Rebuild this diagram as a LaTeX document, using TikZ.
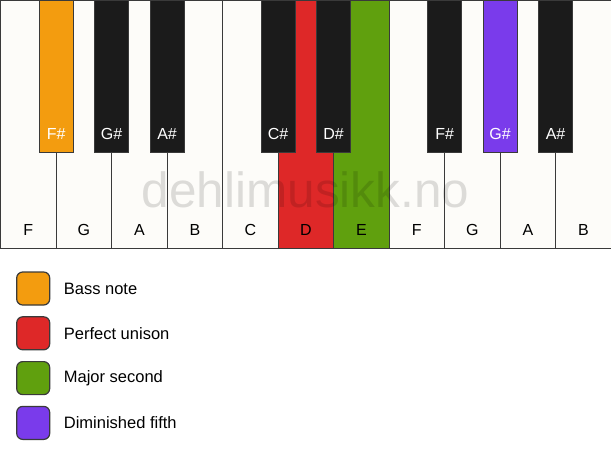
\documentclass[tikz,border=0pt]{standalone}
\usepackage{fontspec}
\setmainfont{Liberation Sans}
\usetikzlibrary{positioning}
\definecolor{ivory}{HTML}{FDFCF9}
\definecolor{keyline}{HTML}{3A3A3A}
\definecolor{ebony}{HTML}{1B1B1B}
\definecolor{bassorange}{HTML}{F39C0F}
\definecolor{unisonred}{HTML}{DE2828}
\definecolor{secondgreen}{HTML}{60A00E}
\definecolor{fifthpurple}{HTML}{7A3BEB}

\begin{document}
\begin{tikzpicture}[x=1pt, y=-1pt,
        whitekey/.style={
            rectangle,
            draw=keyline,
            line width=1.2pt,
            fill=ivory,
            minimum width=55.5pt,
            minimum height=248pt,
            inner sep=0pt,
            outer sep=0pt,
            label={[keyname, anchor=base, yshift=13.6pt]south:#1}
        },
        blackkey/.style={
            rectangle,
            draw=keyline,
            line width=1.2pt,
            fill=ebony,
            minimum width=34pt,
            minimum height=152pt,
            inner sep=0pt,
            outer sep=0pt,
            anchor=north,
            label={[keyname, text=white, anchor=base, yshift=13.6pt]south:#1}
        },
        keyname/.style={
            inner sep=0pt,
            font=\fontsize{16}{19}\selectfont
        },
        swatch/.style={
            rectangle,
            rounded corners=6pt,
            draw=keyline,
            line width=1.2pt,
            minimum width=33pt,
            minimum height=33pt,
            inner sep=0pt,
            outer sep=0pt
        },
        legendtext/.style={
            inner sep=0pt,
            anchor=west,
            font=\fontsize{16.5}{20}\selectfont
        }
    ]
        \useasboundingbox (0,0) rectangle (611,461);

        % white keys
        \node (1) [whitekey=F, anchor=north west] at (0.6,0.6) {};
        \node (2) [whitekey=G, right=0pt of 1] {};
        \node (3) [whitekey=A, right=0pt of 2] {};
        \node (4) [whitekey=B, right=0pt of 3] {};
        \node (5) [whitekey=C, right=0pt of 4] {};
        \node (6) [whitekey=D, fill=unisonred, right=0pt of 5] {};
        \node (7) [whitekey=E, fill=secondgreen, right=0pt of 6] {};
        \node (8) [whitekey=F, right=0pt of 7] {};
        \node (9) [whitekey=G, right=0pt of 8] {};
        \node (10) [whitekey=A, right=0pt of 9] {};
        \node (11) [whitekey=B, right=0pt of 10] {};

        % watermark
        \node (mark) [
            text=black,
            text opacity=0.13,
            font=\fontsize{49.5}{56}\selectfont
        ] at (305.5,189.5) {dehlimusikk.no};

        % black keys
        \node (12) [blackkey=F\#, fill=bassorange] at (1.north east) {};
        \node (23) [blackkey=G\#] at (2.north east) {};
        \node (34) [blackkey=A\#] at (3.north east) {};
        \node (56) [blackkey=C\#] at (5.north east) {};
        \node (67) [blackkey=D\#] at (6.north east) {};
        \node (89) [blackkey=F\#] at (8.north east) {};
        \node (910) [blackkey=G\#, fill=fifthpurple] at (9.north east) {};
        \node (1011) [blackkey=A\#] at (10.north east) {};

        % legend
        \node (b) [swatch, fill=bassorange, anchor=north west] at (16.7,272) {};
        \node (u) [swatch, fill=unisonred, below=11.8pt of b] {};
        \node (s) [swatch, fill=secondgreen, below=11.8pt of u] {};
        \node (d) [swatch, fill=fifthpurple, below=11.8pt of s] {};

        \node (bt) [legendtext, right=14pt of b] {Bass note};
        \node (ut) [legendtext, right=14pt of u] {Perfect unison};
        \node (st) [legendtext, right=14pt of s] {Major second};
        \node (dt) [legendtext, right=14pt of d] {Diminished fifth};
    \end{tikzpicture}
\end{document}
